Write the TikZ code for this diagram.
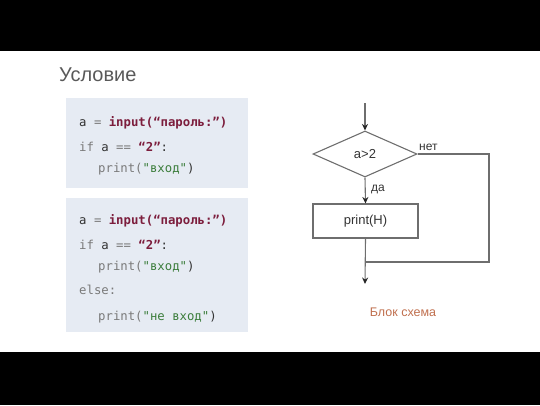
\documentclass[tikz,border=0pt]{standalone}
\usepackage{fontspec}
\setmainfont{Liberation Sans}
\newfontfamily\codefont{DejaVu Sans Mono}
\usetikzlibrary{shapes.geometric,arrows.meta}
\definecolor{codebg}{HTML}{E6EBF3}
\definecolor{kwgrey}{HTML}{7A7A7A}
\definecolor{maroon}{HTML}{7C1D3C}
\definecolor{strgreen}{HTML}{3B7D3B}
\definecolor{dark}{HTML}{333333}
\definecolor{flowline}{HTML}{6E6E6E}
\definecolor{caption}{HTML}{C0704F}
\newcommand{\kw}[1]{\textcolor{kwgrey}{#1}}
\newcommand{\fn}[1]{\textcolor{maroon}{\bfseries #1}}
\newcommand{\st}[1]{\textcolor{strgreen}{#1}}
\tikzset{
  codebox/.style={fill=codebg, draw=none, anchor=north west, inner sep=0pt},
  codeline/.style={anchor=base west, inner sep=0pt, font=\codefont\fontsize{12.3}{14}\selectfont, text=dark},
  flowtext/.style={font=\fontsize{13}{15}\selectfont, text=dark},
  flowlabel/.style={font=\fontsize{12}{14}\selectfont, text=dark},
  flowedge/.style={draw=flowline, line width=1.1pt},
  flowarrow/.style={flowedge, -{Stealth[length=6.5pt,width=6pt,color=black!85]}},
}
\begin{document}
\begin{tikzpicture}[x=1pt,y=-1pt]
\useasboundingbox (0,0) rectangle (540,405);
\fill[black] (0,0) rectangle (540,51);
\fill[black] (0,352) rectangle (540,405);
\node[anchor=west, inner sep=0pt, text=black!65, font=\fontsize{20}{24}\selectfont] (title) at (59,75) {Условие};
% code box 1
\node[codebox, minimum width=182pt, minimum height=90pt] (box1) at (66,98) {};
\node[codeline] (l1) at (79,126) {a \kw{=} \fn{input(“пароль:”)}};
\node[codeline] (l2) at (79,151) {\kw{if} a \kw{==} \fn{“2”}:};
\node[codeline] (l3) at (98,172) {\kw{print(}\st{"вход"})};
% code box 2
\node[codebox, minimum width=182pt, minimum height=134pt] (box2) at (66,198) {};
\node[codeline] (m1) at (79,224) {a \kw{=} \fn{input(“пароль:”)}};
\node[codeline] (m2) at (79,249) {\kw{if} a \kw{==} \fn{“2”}:};
\node[codeline] (m3) at (98,270) {\kw{print(}\st{"вход"})};
\node[codeline] (m4) at (79,294) {\kw{else:}};
\node[codeline] (m5) at (98,320) {\kw{print(}\st{"не вход"})};
% flowchart
\node[diamond, draw=flowline, line width=1.1pt, inner sep=0pt, minimum width=104pt, minimum height=46pt, aspect=2.26, flowtext] (dec) at (365,154) {a>2};
\node[draw=flowline, line width=1.1pt, minimum width=105pt, minimum height=34pt, flowtext] (act) at (365.5,221) {print(H)};
\coordinate (start) at (365,103);
\coordinate (rt) at (489,154);
\coordinate (rb) at (489,262);
\coordinate (merge) at (365,262);
\coordinate (end) at (365,284);
\draw[flowarrow] (start) -- (dec.north);
\draw[flowarrow] (dec.south) -- (act.north);
\draw[flowedge] (dec.east) -- (rt) -- (rb) -- (merge);
\draw[flowarrow] (act.south) -- (end);
\node[flowlabel, anchor=base west, inner sep=0pt] (no) at (419,150) {нет};
\node[flowlabel, anchor=base west, inner sep=0pt] (yes) at (371,191) {да};
\node[text=caption, font=\fontsize{12.5}{15}\selectfont] (cap) at (403,312) {Блок схема};
\end{tikzpicture}
\end{document}
